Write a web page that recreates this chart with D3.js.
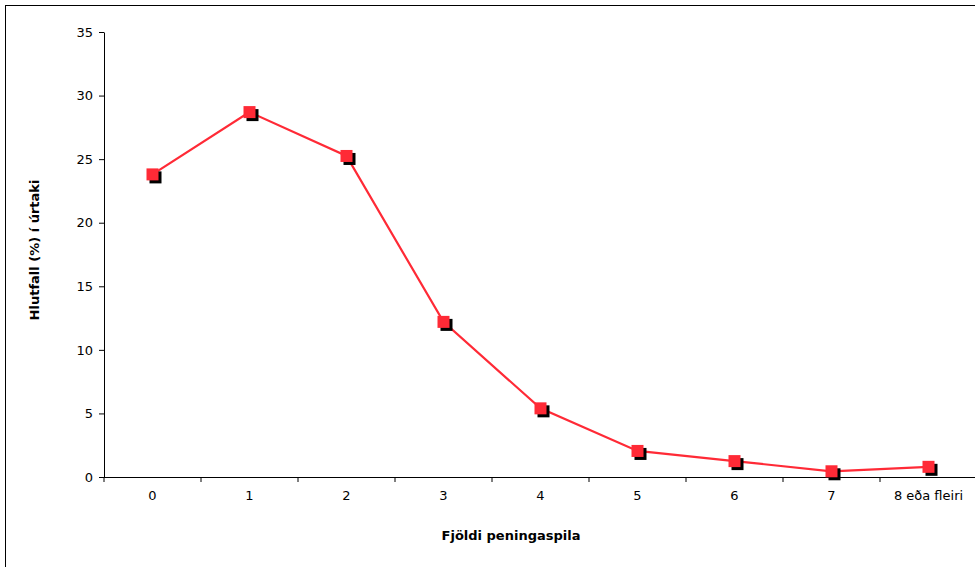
<!DOCTYPE html>
<html>
<head>
<meta charset="utf-8">
<script src="https://d3js.org/d3.v7.min.js"></script>
<style>
  body { margin: 0; background: #fff; }
  text { font-family: Verdana, "DejaVu Sans", sans-serif; }
</style>
</head>
<body>
<div id="chart"></div>
<script>
// data
const categories = ["0", "1", "2", "3", "4", "5", "6", "7", "8 eða fleiri"];
const shares = [23.8, 28.7, 25.25, 12.2, 5.4, 2.05, 1.25, 0.45, 0.8];
const yTicks = [0, 5, 10, 15, 20, 25, 30, 35];

const width = 975, height = 567;
const margin = { left: 104, top: 32, right: 0, bottom: 90 };

const svg = d3.select("#chart").append("svg")
  .attr("width", width)
  .attr("height", height);

// outer frame
svg.append("rect")
  .attr("x", 5.5).attr("y", 5.5)
  .attr("width", 975).attr("height", 600)
  .attr("fill", "none")
  .attr("stroke", "#000");

const x = d3.scaleBand()
  .domain(categories)
  .range([margin.left, 977]);

const y = d3.scaleLinear()
  .domain([0, 35])
  .range([477, margin.top]);

// y axis
const yAxis = svg.append("g")
  .attr("transform", `translate(${margin.left},0)`)
  .call(d3.axisLeft(y).tickValues(yTicks).tickSize(5).tickPadding(6).tickSizeOuter(0));
yAxis.selectAll("text").attr("font-size", 13).attr("font-family", "Verdana, 'DejaVu Sans', sans-serif");

// x axis, ticks at band edges
const xAxis = svg.append("g")
  .attr("transform", `translate(0,477)`)
  .call(d3.axisBottom(x).tickSize(0).tickPadding(14));
xAxis.selectAll("text").attr("font-size", 13).attr("font-family", "Verdana, 'DejaVu Sans', sans-serif");
xAxis.select(".domain").attr("d", `M${margin.left},0.5H977`);
xAxis.selectAll(".edge")
  .data(categories)
  .join("line")
  .attr("class", "edge")
  .attr("x1", d => x(d)).attr("x2", d => x(d))
  .attr("y1", 0).attr("y2", 5)
  .attr("stroke", "#000");

// axis titles
svg.append("text")
  .attr("x", 511).attr("y", 540)
  .attr("text-anchor", "middle")
  .attr("font-size", 13).attr("font-weight", "bold")
  .text("Fjöldi peningaspila");

svg.append("text")
  .attr("transform", "translate(39,250) rotate(-90)")
  .attr("text-anchor", "middle")
  .attr("font-size", 13).attr("font-weight", "bold")
  .text("Hlutfall (%) í úrtaki");

const cx = d => x(d) + x.bandwidth() / 2;

// series line
const line = d3.line()
  .x((d, i) => cx(categories[i]))
  .y(d => y(d));

svg.append("path")
  .datum(shares)
  .attr("d", line)
  .attr("fill", "none")
  .attr("stroke", "#ff2a36")
  .attr("stroke-width", 2.2);

// markers with shadow
const s = 12;
svg.selectAll(".shadow")
  .data(shares)
  .join("rect")
  .attr("class", "shadow")
  .attr("x", (d, i) => cx(categories[i]) - s / 2 + 3)
  .attr("y", d => y(d) - s / 2 + 3)
  .attr("width", s).attr("height", s)
  .attr("fill", "#000");

svg.selectAll(".marker")
  .data(shares)
  .join("rect")
  .attr("class", "marker")
  .attr("x", (d, i) => cx(categories[i]) - s / 2)
  .attr("y", d => y(d) - s / 2)
  .attr("width", s).attr("height", s)
  .attr("fill", "#ff2a36");
</script>
</body>
</html>
